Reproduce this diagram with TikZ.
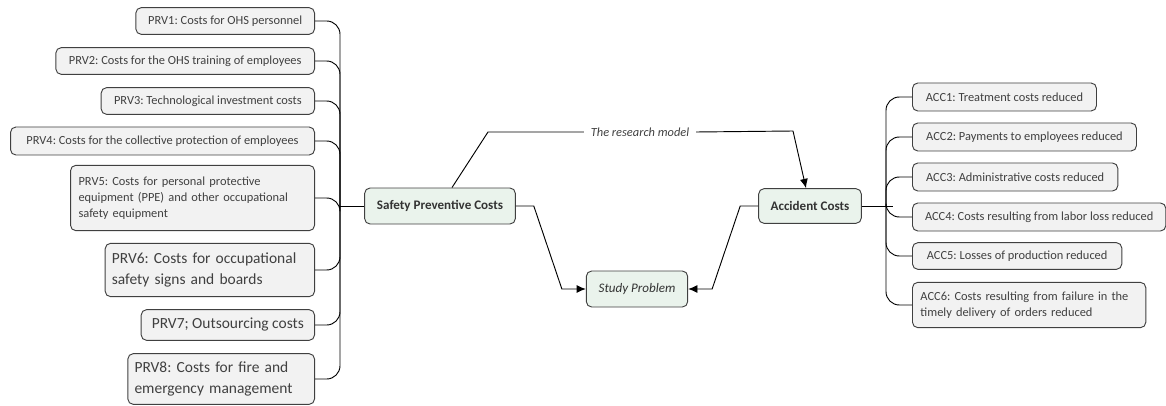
\documentclass[tikz,border=0pt]{standalone}
\usepackage{fontspec}
\setmainfont{Carlito}
\usetikzlibrary{arrows.meta, positioning}
\definecolor{leafgray}{HTML}{F2F2F2}
\definecolor{maingreen}{HTML}{EAF3EC}
\definecolor{edgegray}{HTML}{404040}
\tikzstyle{leaf} = [draw=edgegray, fill=leafgray, rounded corners=4pt,
   line width=0.7pt, inner xsep=6pt, align=left, text=black!75,
   font=\fontsize{9.3}{12}\selectfont\frenchspacing]
\tikzstyle{bigleaf} = [leaf, inner xsep=5pt, font=\fontsize{11.6}{15.5}\selectfont\frenchspacing]
\tikzstyle{mainbox} = [draw=edgegray, fill=maingreen, rounded corners=4pt,
   line width=0.7pt, font=\fontsize{9.8}{12}\selectfont\bfseries, text=black!80]
\tikzstyle{branch} = [line width=0.7pt, rounded corners=10pt]
\tikzstyle{link} = [line width=0.7pt, -{Latex[length=7pt,width=6pt]}]

\begin{document}
\begin{tikzpicture}[x=0.75pt, y=-0.75pt]
	  \useasboundingbox (0,0) rectangle (1166,406);

	  % central nodes
	  \node[mainbox, minimum width=113pt, minimum height=27pt] (spc) at (440,206) {Safety Preventive Costs};
	  \node[mainbox, minimum width=77pt, minimum height=26pt] (ac) at (810,206) {Accident Costs};
	  \node[mainbox, font=\fontsize{9.8}{12}\selectfont\itshape, minimum width=76pt, minimum height=27pt] (sp) at (637,289) {Study Problem};
	  \node[font=\fontsize{9.3}{12}\selectfont\itshape, text=black!75, inner xsep=5pt] (model) at (640,132) {The research model};

	  % trunks
	  \coordinate (ltrunk) at (340,206);
	  \coordinate (rtrunk) at (886,206);

	  % preventive costs
	  \node[leaf, anchor=east, minimum width=134pt, minimum height=20pt] (prv1) at (315,21) {PRV1: Costs for OHS personnel};
	  \node[leaf, anchor=east, minimum width=194pt, minimum height=20pt] (prv2) at (315,61) {PRV2: Costs for the OHS training of employees};
	  \node[leaf, anchor=east, minimum width=160pt, minimum height=20pt] (prv3) at (315,101) {PRV3: Technological investment costs};
	  \node[leaf, anchor=east, minimum width=228pt, minimum height=21pt] (prv4) at (315,141) {PRV4: Costs for the collective protection of employees};
	  \node[leaf, anchor=east, text width=171pt, minimum height=49pt] (prv5) at (315,198) {PRV5: Costs for personal protective\\ equipment (PPE) and other occupational\\ safety equipment};
	  \node[bigleaf, anchor=east, text width=147pt, minimum height=40pt] (prv6) at (315,270) {PRV6: Costs for occupational\\ safety signs and boards};
	  \node[bigleaf, anchor=east, minimum width=130pt, minimum height=23pt] (prv7) at (315,325) {PRV7; Outsourcing costs};
	  \node[bigleaf, anchor=east, text width=130pt, minimum height=38pt] (prv8) at (315,379) {PRV8: Costs for fire and\\ emergency management};

	  % accident costs
	  \node[leaf, anchor=west, minimum width=138pt, minimum height=21pt] (acc1) at (912,97) {ACC1: Treatment costs reduced};
	  \node[leaf, anchor=west, minimum width=168pt, minimum height=21pt] (acc2) at (912,137) {ACC2: Payments to employees reduced};
	  \node[leaf, anchor=west, minimum width=154pt, minimum height=21pt] (acc3) at (912,177) {ACC3: Administrative costs reduced};
	  \node[leaf, anchor=west, minimum width=190pt, minimum height=21pt] (acc4) at (912,217) {ACC4: Costs resulting from labor loss reduced};
	  \node[leaf, anchor=west, minimum width=157pt, minimum height=20pt] (acc5) at (912,256) {ACC5: Losses of production reduced};
	  \node[leaf, anchor=west, text width=163pt, minimum height=34pt] (acc6) at (912,305) {ACC6: Costs resulting from failure in the\\ timely delivery of orders reduced};

	  % branches
	  \foreach \n in {prv1,prv2,prv3,prv4,prv5,prv6,prv7,prv8}
	    \draw[branch] (\n.east) -| (ltrunk);
	  \draw[line width=0.7pt] (ltrunk) -- (spc.west);
	  \foreach \n in {acc1,acc2,acc3,acc4,acc5,acc6}
	    \draw[branch] (\n.west) -| (rtrunk);
	  \draw[line width=0.7pt] (ac.east) -- ([xshift=5pt]rtrunk);

	  % research model
	  \draw[line width=0.7pt] ([xshift=9pt]spc.north) -- (488,132) -- (model.west);
	  \draw[link] (model.east) -- (793,131) -- ([xshift=-3pt]ac.north);

	  % study problem
	  \draw[link] (spc.east) -- ++(18,0) -- ([xshift=-18]sp.west) -- (sp.west);
	  \draw[link] (ac.west) -- ++(-18,0) -- ([xshift=18]sp.east) -- (sp.east);
	\end{tikzpicture}
\end{document}
